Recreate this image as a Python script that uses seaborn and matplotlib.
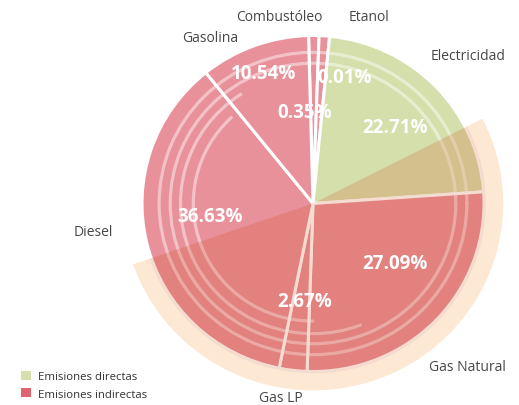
import numpy as np
import matplotlib
matplotlib.use('Agg')
import matplotlib.pyplot as plt
from matplotlib.patches import Wedge, Arc, Patch
import seaborn as sns

# share of emissions per fuel (%), clockwise from the top
fuels = ['Combustóleo', 'Etanol', 'Electricidad', 'Gas Natural', 'Gas LP', 'Diesel', 'Gasolina']
shares = [0.35, 0.01, 22.71, 27.09, 2.67, 36.63, 10.54]
kinds = ['indirectas', 'indirectas', 'directas', 'indirectas', 'indirectas', 'indirectas', 'indirectas']
legend_labels = ['Emisiones directas', 'Emisiones indirectas']

sns.set_theme(style='white')
plt.rcParams['font.family'] = ['Open Sans', 'DejaVu Sans']

kind_colors = {'directas': '#d5dfab', 'indirectas': '#e8919a'}
legend_colors = ['#d5dfab', '#e0646e']
label_gray = '#474747'

# tiny slices get a minimum width so they stay visible
display = np.maximum(np.array(shares), 1.0)

fig = plt.figure(figsize=(5.19, 4.06), dpi=100)
ax = fig.add_axes([0, 0, 1, 1])

wedges, _ = ax.pie(display, colors=[kind_colors[k] for k in kinds],
                   startangle=91.5, counterclock=False, radius=1.0,
                   wedgeprops=dict(edgecolor='white', linewidth=2.2, zorder=2))

# peach band behind the lower half and tint over it
ax.add_patch(Wedge((0, 0), 1.112, -161, 27, color='#fde8d3', lw=0, zorder=0))

# decorative translucent rings
for r, t1, t2 in [(0.90, 0, 360), (0.835, 0, 360), (0.775, 123, 291), (0.70, 133, 270)]:
    ax.add_patch(Arc((0, 0), 2 * r, 2 * r, theta1=t1, theta2=t2, color='white',
                     alpha=0.45, lw=2.3, capstyle='round', zorder=3))

ax.add_patch(Wedge((0, 0), 1.01, -161, 27, color=(0.78, 0.24, 0.0), alpha=0.18, lw=0, zorder=4))

# percent labels
pct_pos = [(-0.047, 0.545), (0.187, 0.753), (0.480, 0.455), (0.480, -0.354),
           (-0.047, -0.580), (-0.602, -0.074), (-0.292, 0.777)]
for val, (x, y) in zip(shares, pct_pos):
    ax.text(x, y, f'{val:.2f}%', color='white', fontsize=13.5, fontweight='bold',
            ha='center', va='center', zorder=6)

# category names
name_pos = [(-0.196, 1.116), (0.327, 1.116), (0.909, 0.878), (0.906, -0.973),
            (-0.187, -1.152), (-1.287, -0.164), (-0.599, 0.991)]
for name, (x, y) in zip(fuels, name_pos):
    ax.text(x, y, name, color=label_gray, fontsize=10, ha='center', va='center', zorder=6)

handles = [Patch(facecolor=c, edgecolor='none') for c in legend_colors]
fig.legend(handles, legend_labels, loc='lower left', bbox_to_anchor=(0.02, -0.012),
           frameon=False, fontsize=8.2, handlelength=0.9, handleheight=0.9,
           handletextpad=0.6, labelspacing=0.5, labelcolor='#333333')

ax.set_aspect('auto')
ax.set_xlim(-313 / 171, 206 / 171)
ax.set_ylim(-(406 - 204.5) / 168, 204.5 / 168)
ax.axis('off')

fig.savefig('out.png', dpi=100)
